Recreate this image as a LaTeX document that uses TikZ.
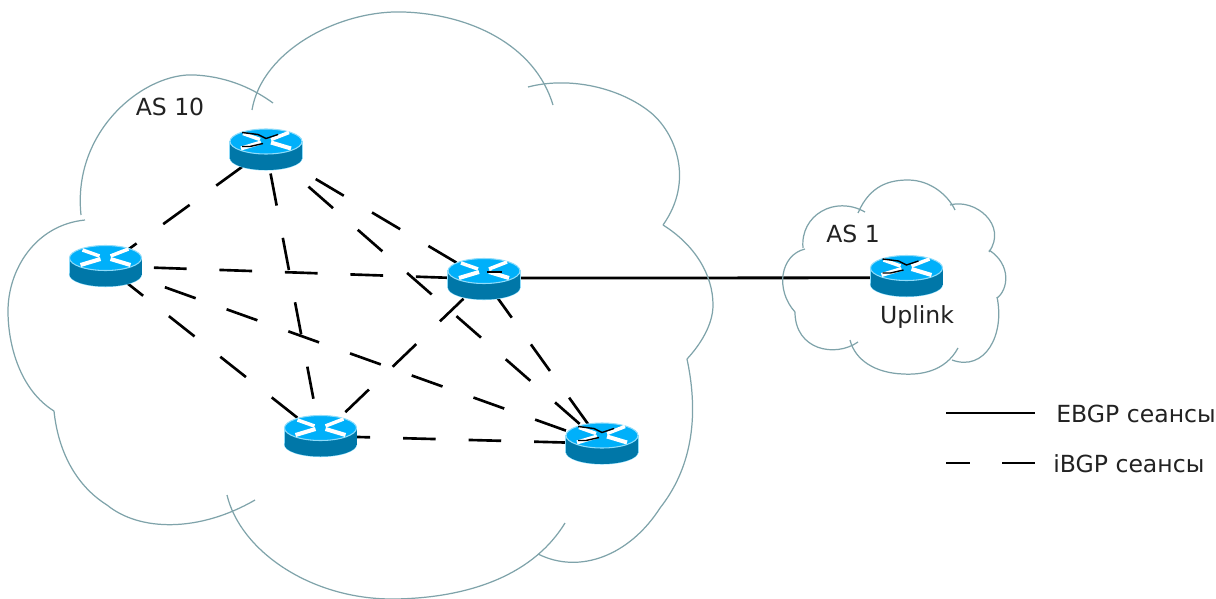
\documentclass[tikz,border=0pt]{standalone}
\usepackage{fontspec}
\setmainfont{DejaVu Sans}
\usetikzlibrary{backgrounds}

\definecolor{routertop}{HTML}{00B0FA}
\definecolor{routerside}{HTML}{0077A8}
\definecolor{routerrim}{HTML}{8FDCFA}
\definecolor{cloudgrey}{HTML}{7FA3AA}
\definecolor{labelgrey}{HTML}{222222}

\newcommand{\routerbody}[1]{
    \begin{scope}[shift={(path picture bounding box.center)}]
        \draw[routerrim,line width=0.6pt] (0,8.5) ellipse [x radius=36,y radius=12];
        \draw[routerrim,line width=0.6pt] (-36,-8) rectangle (36,8.5);
        \fill[routerside] (0,8.5) ellipse [x radius=36,y radius=12];
        \fill[routerside] (-36,-8) rectangle (36,8.5);
        \fill[routertop,draw=routerrim,line width=0.6pt] (0,-8) ellipse [x radius=36,y radius=12.5];
        \draw[white,line width=2pt] (-23,-16) -- (-6,-10);
        \draw[white,line width=2pt] (23,-17) -- (5,-10);
        \draw[white,line width=2.3pt] (-25,-1) -- (-5,-7);
        \draw[white,line width=2.3pt] (25,-1) -- (5,-7);
        #1
    \end{scope}
}

\tikzset{
    router/.style={rectangle,inner sep=0pt,minimum width=1.52cm,minimum height=.92cm,
        path picture={\routerbody{#1}}},
    router/.default={},
    scratched/.style={router={
        \draw[black,line width=0.8pt] (-24,-17) -- (-8,-15) -- (0,-11) -- (12,-15);
        \draw[black,line width=0.8pt] (-24,-3) -- (-16,-3) -- (-3,-6);}},
    cloudline/.style={cloudgrey,line width=0.7pt},
    ebgp/.style={black,line width=1.6pt},
    ibgp/.style={black,line width=1.5pt,dash pattern=on 18.6pt off 18.7pt},
    caption/.style={inner sep=0pt,text=labelgrey,font=\fontsize{13.4}{16}\selectfont}
}

\begin{document}
\begin{tikzpicture}[x=0.02cm,y=-0.02cm]
    \useasboundingbox (0,0) rectangle (1216,598);

    % AS 10
    \draw[cloudline] (81,215) .. controls (72,130) and (145,72) .. (195,75) .. controls (230,77) and (255,90) .. (273,103);
    \draw[cloudline] (252,110) .. controls (262,50) and (340,10) .. (403,12) .. controls (470,14) and (535,45) .. (553,105);
    \draw[cloudline] (528,87) .. controls (570,76) and (620,88) .. (650,112) .. controls (675,132) and (695,180) .. (663,225);
    \draw[cloudline] (663,225) .. controls (695,245) and (713,275) .. (713,305) .. controls (713,325) and (700,345) .. (687,359);
    \draw[cloudline] (687,359) .. controls (700,420) and (690,470) .. (660,508) .. controls (630,555) and (580,575) .. (538,554);
    \draw[cloudline] (565,523) .. controls (530,580) and (460,598) .. (395,599) .. controls (310,600) and (240,550) .. (227,495);
    \draw[cloudline] (255,500) .. controls (200,532) and (140,532) .. (107,505) .. controls (75,485) and (58,450) .. (54,411);
    \draw[cloudline] (54,411) .. controls (20,390) and (8,345) .. (8,311) .. controls (8,270) and (35,225) .. (85,220);

    % AS 1
    \draw[cloudline] (803,248) .. controls (800,215) and (835,195) .. (865,212);
    \draw[cloudline] (858,213) .. controls (870,185) and (890,180) .. (908,180) .. controls (930,180) and (948,195) .. (955,210);
    \draw[cloudline] (950,205) .. controls (975,198) and (1008,225) .. (989,252);
    \draw[cloudline] (989,250) .. controls (1012,265) and (1008,290) .. (997,298);
    \draw[cloudline] (997,297) .. controls (1005,335) and (985,372) .. (952,360);
    \draw[cloudline] (958,348) .. controls (945,372) and (920,375) .. (903,374) .. controls (875,373) and (855,360) .. (850,340);
    \draw[cloudline] (858,342) .. controls (835,358) and (795,350) .. (795,312);
    \draw[cloudline] (795,312) .. controls (775,290) and (780,255) .. (805,249);

    \node[scratched] (top) at (266,149.5) {};
    \node[router] (left) at (105.5,266) {};
    \node[router={\draw[black,line width=0.8pt] (3,-7) -- (18,-7);}] (mid) at (484,279) {};
    \node[router] (low) at (320.5,436) {};
    \node[scratched] (right) at (602,443.5) {};
    \node[scratched] (uplink) at (906.5,276) {};

    \begin{scope}[on background layer]
        \foreach \src/\dst/\ph in {top/left/20.9, top/mid/4.4, top/right/5.2, top/low/23.4,
            left/mid/9.7, left/low/28.6, left/right/1.4, mid/low/21.1, mid/right/28.8, low/right/27.6}
            \draw[ibgp,dash phase=\ph pt] (\src.center) -- (\dst.center);
        \draw[ebgp] ([yshift=0.5pt]mid.center) -- ([yshift=-1pt]uplink.center);
    \end{scope}

    \node[caption] (as10) at (170,107) {AS 10};
    \node[caption] (as1) at (853,234) {AS 1};
    \node[caption] (uplinklabel) at (917,317) {Uplink};

    % legend
    \coordinate (ebgpa) at (946,413);
    \coordinate (ebgpb) at (1035,413);
    \coordinate (ibgpa) at (946,463);
    \coordinate (ibgpb) at (1036,463);
    \draw[ebgp] (ebgpa) -- (ebgpb);
    \draw[ibgp,dash phase=5.2pt] (ibgpa) -- (ibgpb);
    \node[caption,anchor=west] (ebgplabel) at (1056,414) {EBGP сеансы};
    \node[caption,anchor=west] (ibgplabel) at (1053,464) {iBGP сеансы};
\end{tikzpicture}
\end{document}
